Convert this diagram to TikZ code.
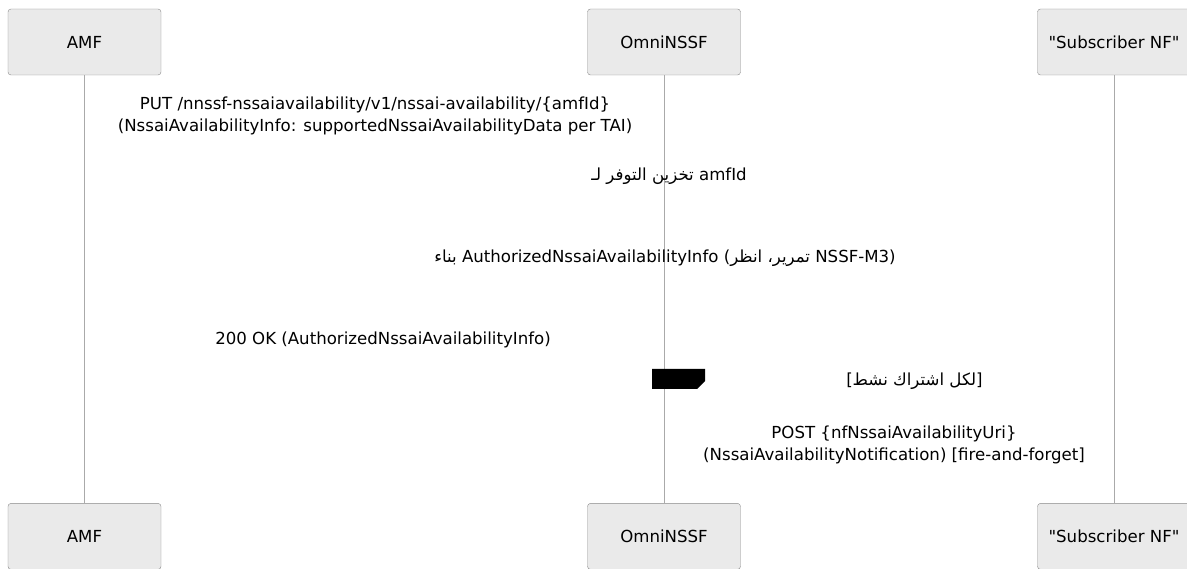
\documentclass[tikz,border=0pt]{standalone}
\usepackage{fontspec}
\setmainfont{DejaVu Sans}
\newfontfamily\arabicfont[Script=Arabic]{DejaVu Sans}
\TeXXeTstate=1
\usetikzlibrary{positioning}
\definecolor{actorfill}{HTML}{EAEAEA}
\definecolor{actorline}{HTML}{8A8A8A}
\definecolor{lifegray}{HTML}{AAAAAA}
\tikzset{
  actor/.style={draw=actorline,fill=actorfill,rounded corners=3pt,
    minimum width=153pt,minimum height=66pt,inner sep=0pt,
    font=\fontsize{16.6}{20}\selectfont},
  msg/.style={align=center,inner sep=0pt,font=\fontsize{16.6}{21.5}\selectfont},
}

\begin{document}
\begin{tikzpicture}[x=1pt,y=-1pt]
      \useasboundingbox (0,0) rectangle (1187,569);
      \coordinate (a) at (84.5,42);
      \coordinate (o) at (664,42);
      \coordinate (s) at (1114,42);

      % participants, top and bottom
      \node[actor] (amft) at (a) {AMF};
      \node[actor] (omnit) at (o) {OmniNSSF};
      \node[actor] (subt) at (s) {\textquotedbl Subscriber NF\textquotedbl};
      \node[actor,below=428pt of amft] (amfb) {AMF};
      \node[actor,below=428pt of omnit] (omnib) {OmniNSSF};
      \node[actor,below=428pt of subt] (subb) {\textquotedbl Subscriber NF\textquotedbl};

      \draw[lifegray] (amft) -- (amfb);
      \draw[lifegray] (omnit) -- (omnib);
      \draw[lifegray] (subt) -- (subb);

      % message texts
      \node[msg] (put) at (375,116) {PUT /nnssf-nssaiavailability/v1/nssai-availability/\{amfId\}\\
        (NssaiAvailabilityInfo: supportedNssaiAvailabilityData per TAI)};
      \node[msg] (store) at (669,176) {{\arabicfont\beginR تخزين التوفر لـ\endR} amfId};
      \node[msg] (build) at (665,258) {{\arabicfont\beginR بناء\endR} AuthorizedNssaiAvailabilityInfo ({\arabicfont\beginR تمرير، انظر\endR} NSSF-M3)};
      \node[msg] (ok) at (383,340) {200 OK (AuthorizedNssaiAvailabilityInfo)};

      % loop
      \fill (652,369) -- (705,369) -- (705,381) -- (697,389) -- (652,389) -- cycle;
      \node[msg] (loop) at (914.5,381) {[{\arabicfont\beginR لكل اشتراك نشط\endR}]};
      \node[msg] (post) at (894,445) {POST \{nfNssaiAvailabilityUri\}\\
        (NssaiAvailabilityNotification) [fire-and-forget]};
\end{tikzpicture}
\end{document}
